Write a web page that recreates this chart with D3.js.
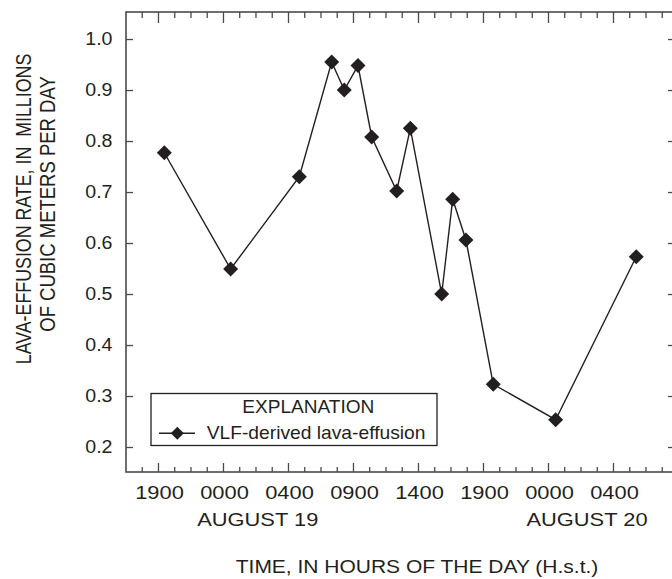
<!DOCTYPE html>
<html>
<head>
<meta charset="utf-8">
<script src="https://cdn.jsdelivr.net/npm/d3@7"></script>
<style>
  html, body { margin: 0; padding: 0; background: #fff; }
  svg { display: block; }
  text { font-family: "Liberation Sans", Arial, Helvetica, sans-serif; fill: #231f20; font-size: 17.5px; white-space: pre; }
</style>
</head>
<body>
<svg id="chart" width="672" height="579"></svg>
<script>
// Hour labels along the time axis, one per major tick (tick index 0..7)
const tickLabels = ["1900", "0000", "0400", "0900", "1400", "1900", "0000", "0400"];
// Day labels and the tick index they are centred on
const dayLabels = ["AUGUST 19", "AUGUST 20"];
const dayPositions = [1.535, 6.6];
// Observation times, expressed as position along the major-tick index
const times = [0.097, 1.118, 2.174, 2.672, 2.866, 3.077, 3.288, 3.672, 3.882, 4.365, 4.534, 4.738, 5.158, 6.118, 7.358];
// VLF-derived lava-effusion rate, millions of cubic meters per day
const rates = [0.777, 0.549, 0.730, 0.955, 0.900, 0.948, 0.808, 0.702, 0.825, 0.500, 0.686, 0.606, 0.323, 0.2535, 0.573];
const yTicks = [0.2, 0.3, 0.4, 0.5, 0.6, 0.7, 0.8, 0.9, 1.0];

const svg = d3.select("#chart");
const pLeft = 126, pRight = 675, pTop = 12, pBottom = 472;
const ink = "#231f20";
const axisInk = "#4a4a4a";

const x = d3.scaleLinear().domain([-0.492, 7.954]).range([pLeft, pRight]);
const y = d3.scaleLinear().domain([0.151, 1.053]).range([pBottom, pTop]);

const data = times.map((t, i) => ({ t, v: rates[i] }));

// Tick positions: majors on each integer index, four subdivisions between
const majors = d3.range(0, 8);
const minors = d3.range(-0.25, 8, 0.25).filter(d => Math.abs(d - Math.round(d)) > 1e-6);

const fmt = d3.format(".1f");

// Text set in a wide face: glyphs are stretched horizontally by sx
function wideText(parent, tx, ty, sx, str, anchor) {
  return parent.append("text")
    .attr("transform", `translate(${tx},${ty}) scale(${sx},1)`)
    .attr("text-anchor", anchor || "start")
    .text(str);
}

// Bottom axis (ticks point inward)
const gB = svg.append("g").attr("transform", `translate(0,${pBottom})`);
gB.call(d3.axisTop(x).tickValues(majors).tickSize(9).tickFormat(""));
gB.append("g").call(d3.axisTop(x).tickValues(minors).tickSize(5).tickFormat(""));
// Top axis
const gT = svg.append("g").attr("transform", `translate(0,${pTop})`);
gT.call(d3.axisBottom(x).tickValues(majors).tickSize(11).tickFormat(""));
gT.append("g").call(d3.axisBottom(x).tickValues(minors).tickSize(6).tickFormat(""));
// Left axis
const gL = svg.append("g").attr("transform", `translate(${pLeft},0)`);
gL.call(d3.axisRight(y).tickValues(yTicks).tickSize(7).tickFormat(""));
// Right axis
const gR = svg.append("g").attr("transform", `translate(${pRight},0)`);
gR.call(d3.axisLeft(y).tickValues(yTicks).tickSize(7).tickFormat(""));

svg.selectAll(".domain").remove();
svg.selectAll(".tick line").attr("stroke", axisInk).attr("stroke-width", 1.3);

// Plot frame
svg.append("rect")
  .attr("x", pLeft).attr("y", pTop)
  .attr("width", pRight - pLeft).attr("height", pBottom - pTop)
  .attr("fill", "none").attr("stroke", axisInk).attr("stroke-width", 1.6);

// Y tick labels
const gYL = svg.append("g");
yTicks.forEach(d => wideText(gYL, 112.5, y(d) + 6.3, 1.12, fmt(d), "end"));

// X tick labels
const gXL = svg.append("g");
majors.forEach(d => wideText(gXL, x(d) + 1.5, 498.5, 1.25, tickLabels[d], "middle"));

// Day labels
dayLabels.forEach((d, i) => wideText(svg, x(dayPositions[i]), 525.7, 1.25, d, "middle"));

// Axis titles
wideText(svg, 417, 572.5, 1.2, "TIME, IN HOURS OF THE DAY (H.s.t.)", "middle");

svg.append("text")
  .attr("transform", "translate(31,209) rotate(-90) scale(1,1.2)")
  .attr("text-anchor", "middle")
  .style("font-size", "17.8px")
  .text("LAVA-EFFUSION RATE, IN  MILLIONS");
svg.append("text")
  .attr("transform", "translate(55,204) rotate(-90) scale(1,1.2)")
  .attr("text-anchor", "middle")
  .style("font-size", "18.5px")
  .text("OF CUBIC METERS PER DAY");

// Series line
const line = d3.line().x(d => x(d.t)).y(d => y(d.v));
svg.append("path")
  .datum(data)
  .attr("d", line)
  .attr("fill", "none")
  .attr("stroke", ink)
  .attr("stroke-width", 1.4);

// Diamond markers
const diamond = "M0,-7.5L7.5,0L0,7.5L-7.5,0Z";
svg.append("g").selectAll("path").data(data).join("path")
  .attr("transform", d => `translate(${x(d.t)},${y(d.v)})`)
  .attr("d", diamond)
  .attr("fill", ink);

// Legend
const lg = svg.append("g");
lg.append("rect")
  .attr("x", 151).attr("y", 393.5)
  .attr("width", 286).attr("height", 52)
  .attr("fill", "#fff").attr("stroke", ink).attr("stroke-width", 1.3);
wideText(lg, 308.3, 412.7, 1.09, "EXPLANATION", "middle");
lg.append("line")
  .attr("x1", 159).attr("x2", 195).attr("y1", 433.3).attr("y2", 433.3)
  .attr("stroke", ink).attr("stroke-width", 1.4);
lg.append("path")
  .attr("transform", "translate(177.3,433.3)")
  .attr("d", "M0,-6.5L6.5,0L0,6.5L-6.5,0Z")
  .attr("fill", ink);
wideText(lg, 206.7, 439.3, 1.1, "VLF-derived lava-effusion");
</script>
</body>
</html>
